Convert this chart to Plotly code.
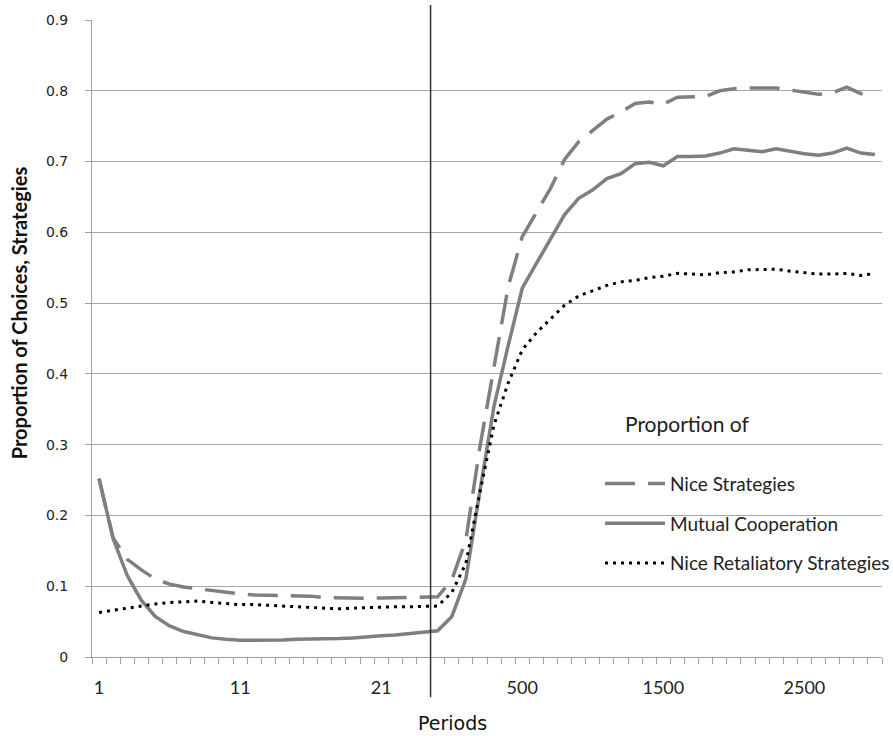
import plotly.graph_objects as go

# ---- data ----
periods = [str(i) for i in range(1, 25)] + ["25", "50"] + [str(p) for p in range(100, 3001, 100)]

label_periods = ["1", "11", "21", "500", "1500", "2500"]

mutual_cooperation = [
    0.252, 0.167, 0.115, 0.080, 0.057, 0.044, 0.036, 0.031, 0.027, 0.025,
    0.0235, 0.0235, 0.0235, 0.024, 0.025, 0.025, 0.026, 0.026, 0.027, 0.029,
    0.030, 0.031, 0.033, 0.035, 0.037, 0.057, 0.110, 0.235, 0.355, 0.440,
    0.521, 0.556, 0.590, 0.625, 0.648, 0.660, 0.676, 0.683, 0.697, 0.699,
    0.694, 0.707, 0.707, 0.708, 0.712, 0.718, 0.716, 0.714, 0.718, 0.714,
    0.711, 0.709, 0.712, 0.719, 0.712, 0.710,
]

nice_strategies = [
    0.252, 0.168, 0.138, 0.123, 0.110, 0.103, 0.099, 0.0965, 0.093, 0.091,
    0.089, 0.0875, 0.087, 0.087, 0.0865, 0.086, 0.084, 0.0835, 0.083, 0.083,
    0.0835, 0.084, 0.084, 0.084, 0.085, 0.109, 0.165, 0.297, 0.410, 0.523,
    0.594, 0.629, 0.662, 0.703, 0.728, 0.744, 0.760, 0.770, 0.782, 0.784,
    0.781, 0.791, 0.791, 0.792, 0.800, 0.803, 0.804, 0.804, 0.804, 0.801,
    0.798, 0.795, 0.797, 0.805, 0.796, 0.797,
]

nice_retaliatory = [
    0.063, 0.066, 0.070, 0.073, 0.075, 0.077, 0.078, 0.079, 0.077, 0.075,
    0.074, 0.074, 0.073, 0.072, 0.072, 0.071, 0.070, 0.068, 0.069, 0.070,
    0.071, 0.071, 0.071, 0.071, 0.072, 0.091, 0.132, 0.233, 0.328, 0.387,
    0.434, 0.458, 0.478, 0.497, 0.510, 0.518, 0.525, 0.530, 0.532, 0.536,
    0.538, 0.542, 0.541, 0.540, 0.543, 0.544, 0.547, 0.547, 0.548, 0.545,
    0.543, 0.541, 0.541, 0.542, 0.539, 0.542,
]

y_ticks = [round(0.1 * i, 1) for i in range(10)]

GRAY = "#7f7f7f"

fig = go.Figure()
fig.add_trace(go.Scatter(
    x=periods, y=nice_strategies, mode="lines", name="Nice Strategies",
    legendgroup="a",
    line=dict(color=GRAY, width=3.5, dash="30px,13px"),
))
fig.add_trace(go.Scatter(
    x=periods, y=mutual_cooperation, mode="lines", name="Mutual Cooperation",
    legendgroup="b",
    line=dict(color=GRAY, width=3.5),
))
fig.add_trace(go.Scatter(
    x=periods, y=nice_retaliatory, mode="lines", name="Nice Retaliatory Strategies",
    legendgroup="c",
    line=dict(color="#000000", width=3, dash="3px,5px"),
))

ticktext = [p if p in label_periods else "" for p in periods]

fig.update_xaxes(
    type="category",
    categoryorder="array", categoryarray=periods,
    range=[-0.5, len(periods) - 0.5],
    tickmode="array", tickvals=periods, ticktext=ticktext, tickangle=0,
    tickson="boundaries", ticks="outside", ticklen=6, tickwidth=1, tickcolor="#a0a0a0",
    showline=True, linecolor="#a0a0a0", linewidth=1,
    showgrid=False, zeroline=False,
    tickfont=dict(family="Lato", size=18, color="#222222"),
    ticklabelstandoff=14,
)
fig.update_yaxes(
    range=[0, 0.9],
    tickmode="array", tickvals=y_ticks, ticktext=[("%g" % v) for v in y_ticks],
    ticks="outside", ticklen=6, tickwidth=1, tickcolor="#a0a0a0",
    showline=True, linecolor="#a0a0a0", linewidth=1,
    showgrid=True, gridcolor="#a6a6a6", gridwidth=1, zeroline=False,
    tickfont=dict(family="DejaVu Sans", size=14, color="#222222"),
    ticklabelstandoff=14,
)

# divider line between early periods and later periods
fig.add_shape(type="line", xref="x", yref="paper",
              x0=23.5, x1=23.5, y0=-0.063, y1=1.0235,
              line=dict(color="#333333", width=1.5))

fig.add_annotation(text="Periods", xref="paper", yref="paper",
                   x=0.456, y=-0.104, xanchor="center", yanchor="middle",
                   showarrow=False, font=dict(family="DejaVu Sans", size=19, color="#111111"))
fig.add_annotation(text="<b>Proportion of Choices, Strategies</b>", xref="paper", yref="paper",
                   x=-0.092, y=0.54, xanchor="center", yanchor="middle", textangle=-90,
                   showarrow=False, font=dict(family="Lato", size=20, color="#111111"))
fig.add_annotation(text="Proportion of", xref="paper", yref="paper",
                   x=0.672, y=0.367, xanchor="left", yanchor="middle",
                   showarrow=False, font=dict(family="Lato", size=21, color="#222222"))

fig.update_layout(
    width=893, height=736,
    margin=dict(l=92, r=11, t=20, b=79, autoexpand=False),
    paper_bgcolor="white", plot_bgcolor="white",
    showlegend=True,
    legend=dict(x=0.643, y=0.302, xanchor="left", yanchor="top",
                font=dict(family="Lato", size=19, color="#222222"),
                bgcolor="rgba(0,0,0,0)", itemwidth=60, tracegroupgap=12),
)

fig.write_html("out.html")
